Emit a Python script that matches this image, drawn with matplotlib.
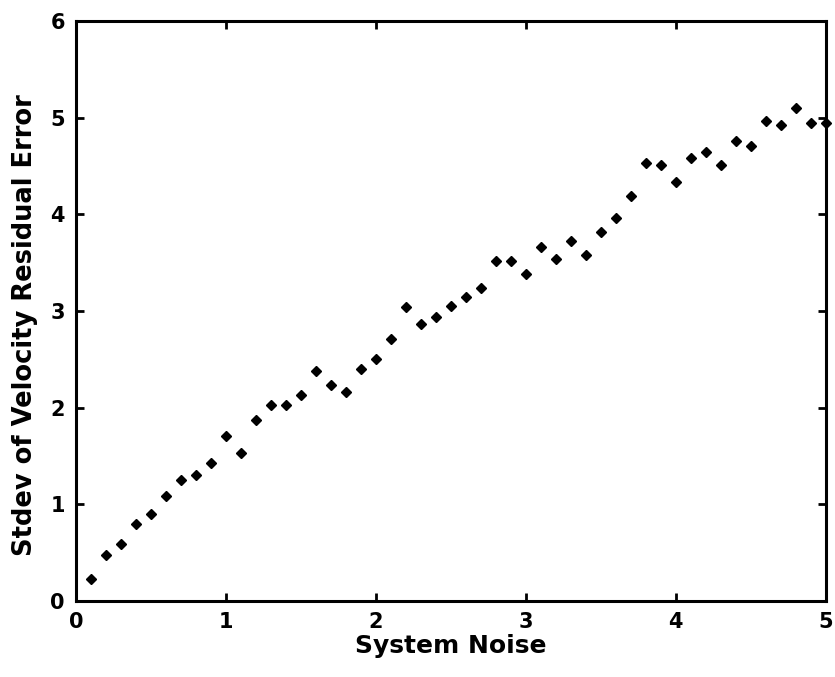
import matplotlib.pyplot as plt

noise = [0.1, 0.2, 0.3, 0.4, 0.5, 0.6, 0.7, 0.8, 0.9, 1.0,
         1.1, 1.2, 1.3, 1.4, 1.5, 1.6, 1.7, 1.8, 1.9, 2.0,
         2.1, 2.2, 2.3, 2.4, 2.5, 2.6, 2.7, 2.8, 2.9, 3.0,
         3.1, 3.2, 3.3, 3.4, 3.5, 3.6, 3.7, 3.8, 3.9, 4.0,
         4.1, 4.2, 4.3, 4.4, 4.5, 4.6, 4.7, 4.8, 4.9, 5.0]
stdev = [0.23, 0.48, 0.59, 0.80, 0.90, 1.09, 1.25, 1.30, 1.43, 1.71,
         1.53, 1.87, 2.03, 2.03, 2.13, 2.38, 2.24, 2.16, 2.40, 2.50,
         2.71, 3.04, 2.87, 2.94, 3.05, 3.15, 3.24, 3.52, 3.52, 3.38,
         3.66, 3.54, 3.72, 3.58, 3.82, 3.96, 4.19, 4.53, 4.51, 4.34,
         4.58, 4.64, 4.51, 4.76, 4.71, 4.97, 4.92, 5.10, 4.94, 4.94]

plt.rcParams['font.family'] = ['DejaVu Sans']
plt.rcParams['font.weight'] = 'bold'

fig = plt.figure(figsize=(8.35, 6.77), dpi=100)
ax = fig.add_axes([0.091, 0.112, 0.898, 0.857])

ax.plot(noise, stdev, 'kD', markersize=5.5, clip_on=False)

ax.set_xlim(0, 5)
ax.set_ylim(0, 6)
ax.set_xticks([0, 1, 2, 3, 4, 5])
ax.set_yticks([0, 1, 2, 3, 4, 5, 6])
ax.tick_params(direction='in', top=True, right=True, length=6, width=2,
               labelsize=15, pad=8)
for s in ax.spines.values():
    s.set_linewidth(2.2)

ax.set_xlabel("System Noise", fontsize=18, fontweight='bold', labelpad=1)
ax.set_ylabel("Stdev of Velocity Residual Error", fontsize=18.5, fontweight='bold')
ax.yaxis.set_label_coords(-0.05, 0.475)

fig.savefig("out.png", dpi=100)
